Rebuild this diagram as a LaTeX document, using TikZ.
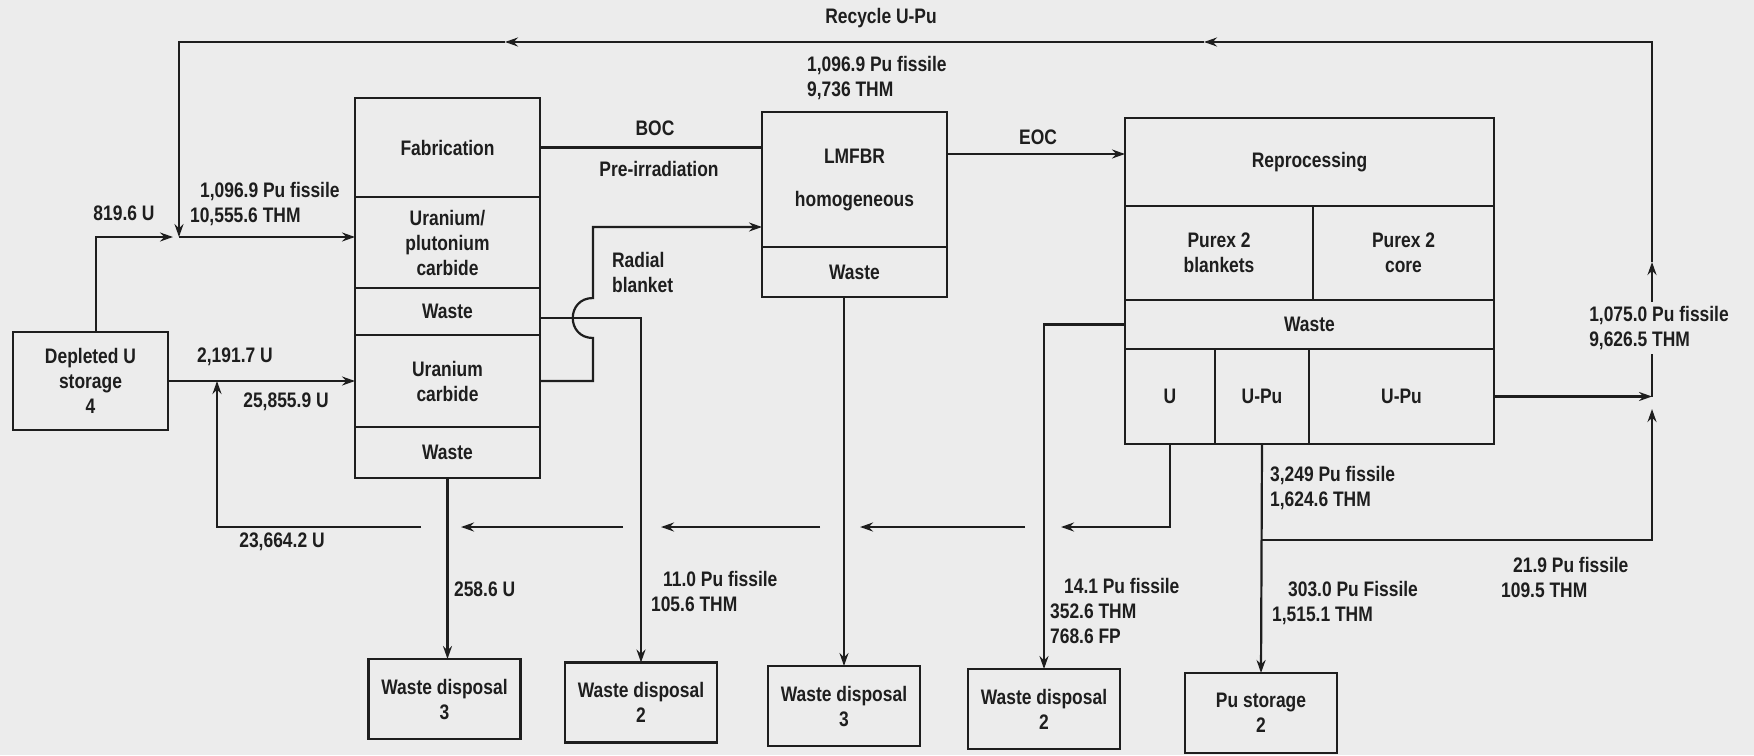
\documentclass[tikz,border=0pt]{standalone}
\usepackage{fontspec}
\setmainfont{Liberation Sans}[FakeStretch=0.83]
\usetikzlibrary{arrows.meta, positioning, calc}
\definecolor{scanbg}  {RGB}{236, 236, 236}
\definecolor{inkdark} {RGB}{ 30,  30,  30}

\tikzset{
	cell/.style={draw=inkdark, line width=1.1pt, inner sep=1pt, outer sep=0pt, align=center},
	sink/.style={cell, minimum width=76pt, minimum height=40pt},
	qty/.style={inner sep=0pt, align=left},
	tip/.style={-{Stealth[length=6.5pt,width=4.5pt]}}
}

\begin{document}
\begin{tikzpicture}[x=0.5pt,y=-0.5pt,line width=1.1pt,color=inkdark,
		font=\fontsize{10.5}{12.5}\selectfont\bfseries]
	\fill[scanbg] (0,0) rectangle (1754,755);
	\useasboundingbox (0,0) rectangle (1754,755);

	% storage and fabrication
	\node[cell, minimum width=77.5pt, minimum height=49pt] (depl) at (90.5,381) {Depleted U\\storage\\4};
	\node[cell, minimum width=92.5pt, minimum height=49.5pt] (fab) at (447.5,147.5) {Fabrication};
	\node[cell, minimum width=92.5pt, minimum height=45.5pt, below=0pt of fab] (upc) {Uranium/\\plutonium\\carbide};
	\node[cell, minimum width=92.5pt, minimum height=23.5pt, below=0pt of upc] (fw1) {Waste};
	\node[cell, minimum width=92.5pt, minimum height=46pt, below=0pt of fw1] (uc) {Uranium\\carbide};
	\node[cell, minimum width=92.5pt, minimum height=25.5pt, below=0pt of uc] (fw2) {Waste};

	% reactor
	\node[cell, minimum width=92.5pt, minimum height=67.5pt] (lm) at (854.5,179.5) {LMFBR\\[9pt]homogeneous};
	\node[cell, minimum width=92.5pt, minimum height=25pt, below=0pt of lm] (lmw) {Waste};

	% reprocessing
	\node[cell, minimum width=184.5pt, minimum height=44pt] (rep) at (1309.5,162) {Reprocessing};
	\node[cell, minimum width=94pt, minimum height=47pt, anchor=north west] (blk) at (rep.south west) {Purex 2\\blankets};
	\node[cell, minimum width=90.5pt, minimum height=47pt, anchor=north west] (core) at (blk.north east) {Purex 2\\core};
	\node[cell, minimum width=184.5pt, minimum height=24.5pt, anchor=north west] (rw) at (blk.south west) {Waste};
	\node[cell, minimum width=45pt, minimum height=47.5pt, anchor=north west] (ru) at (rw.south west) {U};
	\node[cell, minimum width=47pt, minimum height=47.5pt, anchor=north west] (rup1) at (ru.north east) {U-Pu};
	\node[cell, minimum width=92.5pt, minimum height=47.5pt, anchor=north west] (rup2) at (rup1.north east) {U-Pu};

	% disposal and storage
	\node[sink] (wd3a) at (444.5,699) {Waste disposal\\3};
	\node[sink] (wd2a) at (641,702.5) {Waste disposal\\2};
	\node[sink] (wd3b) at (844,706) {Waste disposal\\3};
	\node[sink] (wd2b) at (1044,709) {Waste disposal\\2};
	\node[sink] (pust) at (1261,713) {Pu storage\\2};

	\coordinate (j1) at (179,237);
	\coordinate (rtl) at (179,42);
	\coordinate (rv) at (1652,396.5);

	% feed
	\draw[tip] ($(depl.north)+(5.5,0)$) |- (173,237);
	\draw[tip] (j1) -- (upc.west |- j1);
	\draw[tip] (depl.east) -- (uc.west);

	% recycle loop
	\draw[tip] (rup2.east) -- (rv);
	\draw[tip] (rup1.south |- 0,540) -| (1652,409);
	\draw[tip] (rv) -- (1652,262);
	\draw[tip] (1652,262) |- (1204,42);
	\draw[tip] (1204,42) -- (505,42);
	\draw[tip] (505,42) -- (rtl) -- (j1);

	% fabrication to reactor to reprocessing
	\draw (fab.east) -- (fab.east -| lm.west);
	\draw[tip] (uc.east) -- (593,381) -- (593,338) .. controls (566,338) and (566,298) .. (593,298)
		-- (593,227) -- (lm.west |- 0,227);
	\draw[tip] (lm.east |- 0,154) -- (rep.west |- 0,154);

	% waste streams
	\draw[tip] (fw2.south) -- (fw2.south |- wd3a.north);
	\draw[tip] (fw1.east |- 0,318) -| (wd2a.north);
	\draw[tip] (lmw.south -| wd3b.north) -- (wd3b.north);
	\draw[tip] (rw.west) -| (wd2b.north);
	\draw[tip] (rup1.south) -- (pust.north);

	% uranium return
	\draw[tip] (ru.south) |- (1061,527);
	\draw[tip] (1025,527) -- (860,527);
	\draw[tip] (820,527) -- (661,527);
	\draw[tip] (623,527) -- (461,527);
	\draw[tip] (421,527) -| (217,381);

	% quantities
	\node (lrec) at (881,18) {Recycle U-Pu};
	\node (l819) at (124,213) {819.6 U};
	\node[qty, anchor=west] (lfeed) at (189,204) {\hspace*{5pt}1,096.9 Pu fissile\\10,555.6 THM};
	\node (l2191) at (235,357) {2,191.7 U};
	\node (l25855) at (286,402) {25,855.9 U};
	\node (l23664) at (282,542) {23,664.2 U};
	\node[qty, anchor=west] (l258) at (453,589) {258.6 U};
	\node[qty, anchor=west] (lrad) at (611,272) {Radial\\blanket};
	\node (lboc) at (655,128) {BOC};
	\node (lpre) at (659,169) {Pre-irradiation};
	\node[qty, anchor=west] (lcore) at (806,78) {1,096.9 Pu fissile\\9,736 THM};
	\node (leoc) at (1038,137) {EOC};
	\node[qty, anchor=west] (l11) at (650,591) {\hspace*{6pt}11.0 Pu fissile\\105.6 THM};
	\node[qty, anchor=west] (l14) at (1049,611) {\hspace*{7pt}14.1 Pu fissile\\352.6 THM\\768.6 FP};
	\node[qty, anchor=west] (l3249) at (1269,488) {3,249 Pu fissile\\1,624.6 THM};
	\node[qty, anchor=west] (l303) at (1271,603) {\hspace*{8pt}303.0 Pu Fissile\\1,515.1 THM};
	\node[qty, anchor=west] (l219) at (1500,577) {\hspace*{6pt}21.9 Pu fissile\\109.5 THM};
	\node[qty, fill=scanbg, inner sep=2pt] (l1075) at (1659,328) {1,075.0 Pu fissile\\9,626.5 THM};
\end{tikzpicture}
\end{document}
